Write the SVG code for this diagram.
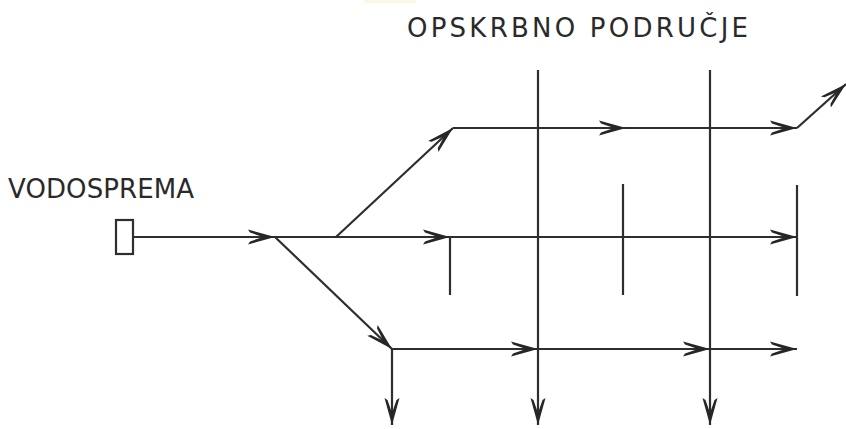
<svg xmlns="http://www.w3.org/2000/svg" width="846" height="429" viewBox="0 0 846 429">
  <defs>
    <!-- swept chevron arrowhead, tip at origin pointing along +x -->
    <marker id="arr" markerUnits="userSpaceOnUse" markerWidth="40" markerHeight="20" viewBox="-30 -10 32 20" refX="0" refY="0" orient="auto" overflow="visible">
      <path d="M0 0 L-27 -7.5 L-25 -4.5 L-12 0 L-25 4.5 L-27 7.5 Z" fill="#262626"/>
    </marker>
  </defs>
  <style>
    .ln { stroke: #2e2e2e; stroke-width: 2.2; fill: none; stroke-linecap: butt; }
    .lbl { font-family: "DejaVu Sans", "Liberation Sans", sans-serif; font-size: 26px; fill: #2a2a2a; }
  </style>
  <rect width="846" height="429" fill="#fff"/>
  <rect x="364" y="0" width="52" height="3" fill="#faf7e2"/>

  <g id="label-area">
    <text class="lbl" x="407" y="37" textLength="341" lengthAdjust="spacing">OPSKRBNO  PODRUČJE</text>
  </g>
  <g id="label-tank">
    <text class="lbl" x="8" y="198" textLength="186" lengthAdjust="spacing">VODOSPREMA</text>
  </g>
  <g id="tank">
    <rect x="116" y="220" width="17" height="34" class="ln"/>
  </g>

  <g id="connectors">
    <!-- main line -->
    <path class="ln" d="M133 237 H275" marker-end="url(#arr)"/>
    <path class="ln" d="M275 237 H450" marker-end="url(#arr)"/>
    <path class="ln" d="M450 237 H797" marker-end="url(#arr)"/>
    <path class="ln" d="M450 237 V295"/>
    <path class="ln" d="M623 184 V295"/>
    <path class="ln" d="M797 185 V296"/>
    <!-- upper branch -->
    <path class="ln" d="M336 237 L453 128" marker-end="url(#arr)"/>
    <path class="ln" d="M453 128 H626" marker-end="url(#arr)"/>
    <path class="ln" d="M626 128 H797" marker-end="url(#arr)"/>
    <path class="ln" d="M797 128 L846 84" marker-end="url(#arr)"/>
    <!-- lower branch -->
    <path class="ln" d="M275 237 L392 349" marker-end="url(#arr)"/>
    <path class="ln" d="M392 349 H538" marker-end="url(#arr)"/>
    <path class="ln" d="M538 349 H710" marker-end="url(#arr)"/>
    <path class="ln" d="M710 349 H797" marker-end="url(#arr)"/>
    <path class="ln" d="M392 349 V425" marker-end="url(#arr)"/>
    <!-- supply area boundaries -->
    <path class="ln" d="M538 70 V425" marker-end="url(#arr)"/>
    <path class="ln" d="M710 70 V425" marker-end="url(#arr)"/>
  </g>
</svg>
